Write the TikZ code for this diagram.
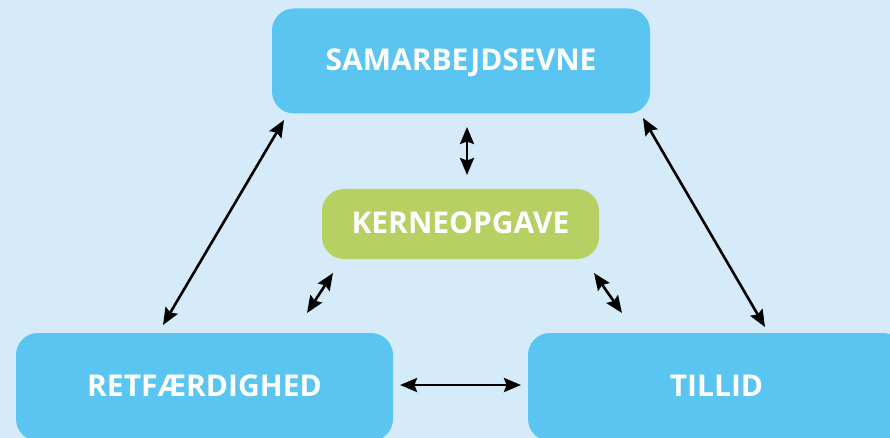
\documentclass[tikz,border=0pt]{standalone}
\usepackage{fontspec}
\setmainfont{Open Sans}
\usetikzlibrary{arrows.meta}
\definecolor{bgblue}{HTML}{D5EBFA}
\definecolor{boxblue}{HTML}{5BC5F2}
\definecolor{boxgreen}{HTML}{B6D064}
\tikzset{
  box/.style={fill=boxblue, rounded corners=22pt, inner sep=0pt, text=white,
    text height=20pt, text depth=1.5pt,
    font=\fontsize{30}{34}\selectfont\bfseries},
  greenbox/.style={box, fill=boxgreen},
  tip/.style={Stealth[length=17pt,width=14pt,inset=2.5pt]},
  arr/.style={line width=2.6pt, {Stealth[length=17pt,width=14pt,inset=2.5pt]}-{Stealth[length=17pt,width=14pt,inset=2.5pt]}},
}
\begin{document}
\begin{tikzpicture}[x=1pt,y=-1pt]
\useasboundingbox (0,0) rectangle (890,438);
\clip (0,0) rectangle (890,438);
\fill[bgblue] (0,0) rectangle (890,438);
\node[box, minimum width=378pt, minimum height=105pt] (sam) at (461,61) {SAMARBEJDSEVNE};
\node[greenbox, minimum width=277pt, minimum height=70pt] (kern) at (460.5,224) {KERNEOPGAVE};
\node[box, minimum width=377pt, minimum height=108pt] (ret) at (204.5,387) {RETFÆRDIGHED};
\node[box, minimum width=377pt, minimum height=108pt] (til) at (716.5,387) {TILLID};
\coordinate (a1) at (284,120);
\coordinate (a2) at (163,325);
\coordinate (b1) at (643,118);
\coordinate (b2) at (765,327);
\coordinate (c1) at (467,127);
\coordinate (c2) at (467,175);
\coordinate (d1) at (333,273);
\coordinate (d2) at (307,313);
\coordinate (e1) at (594,273);
\coordinate (e2) at (622,313);
\coordinate (f1) at (400,385);
\coordinate (f2) at (521,385);
\draw[arr] (a1) -- (a2);
\draw[arr] (b1) -- (b2);
\draw[arr] (c1) -- (c2);
\draw[arr] (d1) -- (d2);
\draw[arr] (e1) -- (e2);
\draw[arr] (f1) -- (f2);
\end{tikzpicture}
\end{document}
